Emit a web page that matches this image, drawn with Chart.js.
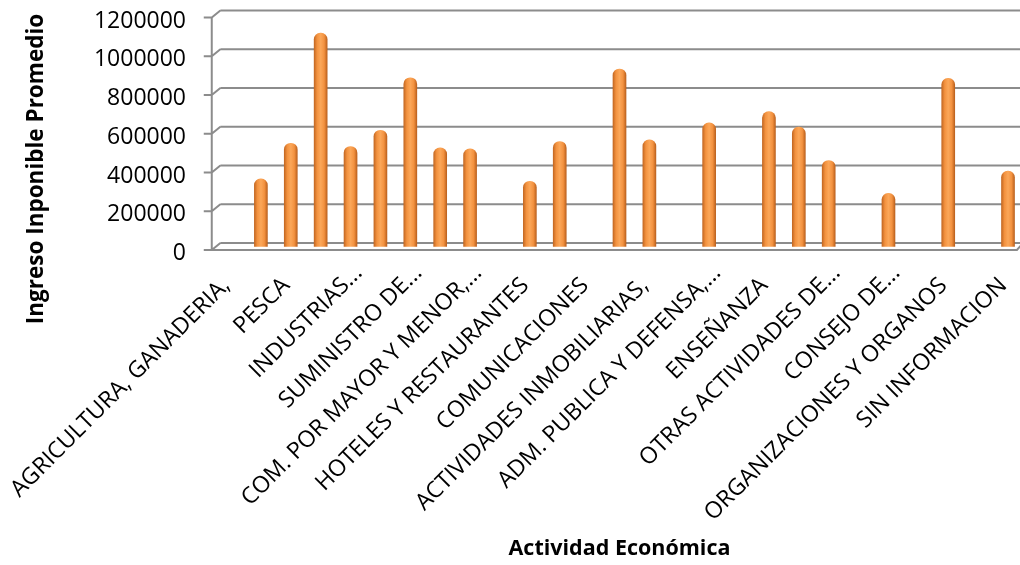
<!DOCTYPE html>
<html>
<head>
<meta charset="utf-8">
<title>Ingreso Inponible Promedio por Actividad Económica</title>
<script src="https://cdn.jsdelivr.net/npm/chart.js@4.4.1/dist/chart.umd.min.js"></script>
<style>
  html, body { margin: 0; padding: 0; background: #fff; }
  canvas { display: block; }
</style>
</head>
<body>
<canvas id="myChart" width="1020" height="565"></canvas>
<script>

// one label in two is shown on the axis, the rest only live in the data
var actividades = [
  'AGRICULTURA, GANADERIA,',
  'SILVICULTURA',
  'PESCA',
  'EXPLOTACION DE MINAS Y CANTERAS',
  'INDUSTRIAS...',
  'INDUSTRIAS METALICAS',
  'SUMINISTRO DE...',
  'CONSTRUCCION',
  'COM. POR MAYOR Y MENOR,...',
  'REPARACION DE VEHICULOS',
  'HOTELES Y RESTAURANTES',
  'TRANSPORTE Y ALMACENAMIENTO',
  'COMUNICACIONES',
  'INTERMEDIACION FINANCIERA',
  'ACTIVIDADES INMOBILIARIAS,',
  'SERVICIOS EMPRESARIALES',
  'ADM. PUBLICA Y DEFENSA,...',
  'PLANES DE SEGURIDAD SOCIAL',
  'ENSEÑANZA',
  'SERVICIOS SOCIALES Y DE SALUD',
  'OTRAS ACTIVIDADES DE...',
  'SERVICIOS PERSONALES',
  'CONSEJO DE...',
  'HOGARES PRIVADOS',
  'ORGANIZACIONES Y ORGANOS',
  'ORGANOS EXTRATERRITORIALES',
  'SIN INFORMACION'
];

var ingresoPromedio = [
  null, 349000, 533000, 1101000, 516000, 600000, 871000, 509000, 504000,
  null, 337000, 542000, null, 916000, 550000, null, 638000, null,
  696000, 616000, 444000, null, 274000, null, 868000, null, 389000
];

var ticksY = [0, 200000, 400000, 600000, 800000, 1000000, 1200000];

var tituloX = 'Actividad Económica';
var tituloY = 'Ingreso Inponible Promedio';

Chart.defaults.font.family = "'Open Sans', sans-serif";
Chart.defaults.color = '#000';

// depth of the back wall, in px
var DX = 4.3, DY = 3.5;

// orange cylinder shading, left to right
function cilindro(context) {
  var chart = context.chart;
  if (context.type !== 'data' || !chart.chartArea) return '#f79646';
  var x = chart.scales.x.getPixelForValue(context.dataIndex);
  var g = chart.ctx.createLinearGradient(x - 7, 0, x + 7, 0);
  g.addColorStop(0, '#bd621e');
  g.addColorStop(0.25, '#f3923f');
  g.addColorStop(0.5, '#fba759');
  g.addColorStop(0.75, '#f39240');
  g.addColorStop(1, '#b45a18');
  return g;
}

// side wall, back wall and floor of the 3d box
var paredes = {
  id: 'paredes',
  beforeDatasetsDraw: function(chart) {
    var c = chart.ctx, x = chart.scales.x, y = chart.scales.y;
    var left = x.getPixelForValue(-0.5);
    var right = x.getPixelForValue(actividades.length - 0.5);
    var y0 = y.getPixelForValue(0);
    var yMax = y.getPixelForValue(y.max);
    c.save();
    c.strokeStyle = '#8c8c8c';
    c.lineWidth = 2;
    c.beginPath();
    y.ticks.forEach(function(t) {
      var py = y.getPixelForValue(t.value);
      c.moveTo(left + DX, py - DY);
      c.lineTo(right, py - DY);
      c.moveTo(left - DX - 8, py + DY);
      c.lineTo(left - DX, py + DY);
      c.lineTo(left + DX, py - DY);
    });
    c.moveTo(left - DX, yMax + DY);
    c.lineTo(left - DX, y0 + DY);
    c.moveTo(left - DX, y0 + DY);
    c.lineTo(right - 6, y0 + DY);
    c.lineTo(right, y0 - DY);
    c.stroke();
    c.restore();
  }
};

// vertical axis title
var tituloVertical = {
  id: 'tituloVertical',
  afterDraw: function(chart) {
    var c = chart.ctx;
    c.save();
    c.translate(37, 169);
    c.rotate(-Math.PI / 2);
    c.font = "bold 22.5px 'Open Sans', sans-serif";
    c.fillStyle = '#000';
    c.textAlign = 'center';
    c.textBaseline = 'middle';
    c.fillText(tituloY, 0, 0);
    c.restore();
  }
};

var ctx = document.getElementById('myChart').getContext('2d');
var myChart = new Chart(ctx, {
  type: 'bar',
  data: {
    labels: actividades,
    datasets: [{
      data: ingresoPromedio,
      backgroundColor: cilindro,
      borderWidth: 0,
      borderRadius: { topLeft: 7, topRight: 7, bottomLeft: 0, bottomRight: 0 },
      borderSkipped: false,
      barThickness: 13,
      clip: false
    }]
  },
  options: {
    responsive: false,
    animation: false,
    events: [],
    layout: {
      padding: { left: 0, top: 14, right: 12, bottom: 0 }
    },
    plugins: {
      legend: { display: false },
      tooltip: { enabled: false }
    },
    scales: {
      x: {
        offset: false,
        grid: { display: false },
        border: { display: false },
        ticks: {
          autoSkip: false,
          maxRotation: 45,
          minRotation: 45,
          padding: 5,
          labelOffset: 8,
          font: { size: 23 },
          callback: function(v, i) {
            if (i % 2) return '';
            var t = actividades[i];
            // truncated names let the dots hang past the tick
            return t.slice(-3) === '...' ? t : t + '   ';
          }
        },
        title: {
          display: true,
          text: tituloX,
          font: { size: 21.5, weight: 'bold' },
          padding: { top: 0, bottom: 3 }
        },
        afterFit: function(scale) {
          scale.height = 565 - 246.5;
          scale.paddingLeft = 0;
          scale.paddingRight = 0;
        }
      },
      y: {
        min: 0,
        max: 1200000,
        grid: { display: false },
        border: { display: false },
        ticks: {
          padding: 37,
          labelOffset: 7,
          font: { size: 23 },
          callback: function(v) { return String(v); }
        },
        afterBuildTicks: function(scale) {
          scale.ticks = ticksY.map(function(v) { return { value: v }; });
        },
        afterFit: function(scale) {
          scale.width = 231;
          scale.paddingTop = 0;
          scale.paddingBottom = 0;
        }
      }
    }
  },
  plugins: [paredes, tituloVertical]
});

</script>
</body>
</html>
